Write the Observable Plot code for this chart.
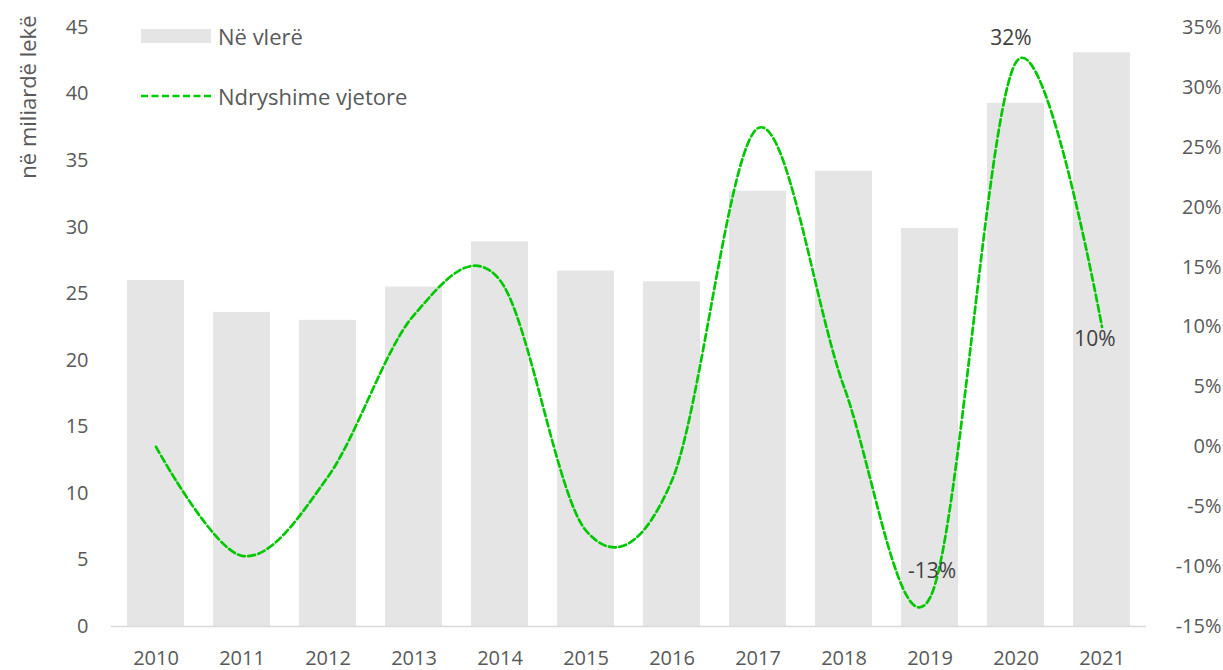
<!DOCTYPE html>
<html>
<head>
<meta charset="utf-8">
<script src="https://cdn.jsdelivr.net/npm/d3@7"></script>
<script src="https://cdn.jsdelivr.net/npm/@observablehq/plot@0.6"></script>
<style>
  body { margin: 0; background: #fff; font-family: "Open Sans", sans-serif; }
  #wrap { position: relative; width: 1223px; height: 670px; }
  .lg { position: absolute; left: 141px; display: flex; align-items: center; color: #595959; font-size: 22px; }
  .lg .sw { width: 70px; height: 14px; margin-right: 7px; }
  .lg svg { margin-right: 7px; }
</style>
</head>
<body>
<div id="wrap">
  <div class="lg" style="top:21px;"><div class="sw" style="background:#e5e5e5"></div><span>Në vlerë</span></div>
  <div class="lg" style="top:81px;"><svg width="70" height="14"><line x1="0" x2="70" y1="7" y2="7" stroke="#00c800" stroke-width="2.7" stroke-dasharray="7,3.5"/></svg><span>Ndryshime vjetore</span></div>
</div>
<script>
const years = ["2010","2011","2012","2013","2014","2015","2016","2017","2018","2019","2020","2021"];
const values = [26.0, 23.6, 23.0, 25.5, 28.9, 26.7, 25.9, 32.7, 34.2, 29.9, 39.3, 43.1];
const changes = [0, -9.1, -2.5, 11, 13.9, -7.0, -2.8, 26.6, 5, -12.6, 32.1, 10];
const leftTicks = [0, 5, 10, 15, 20, 25, 30, 35, 40, 45];
const rightTicks = [-15, -10, -5, 0, 5, 10, 15, 20, 25, 30, 35];
const labelYears = ["2019", "2020", "2021"];
const labelTexts = ["-13%", "32%", "10%"];

const pctMin = -15, pctMax = 35, leftMax = 45;
const toLeft = p => (p - pctMin) * leftMax / (pctMax - pctMin);
const fromLeft = v => v * (pctMax - pctMin) / leftMax + pctMin;

const data = years.map((y, i) => ({year: y, value: values[i], change: changes[i]}));
const labels = labelYears.map((y, i) => ({year: y, text: labelTexts[i], change: changes[years.indexOf(y)]}));
const labelOffsets = {"2019": [2, -26], "2020": [-5, -24], "2021": [-7, 12]};

const chart = Plot.plot({
  width: 1223,
  height: 670,
  marginLeft: 111,
  marginRight: 77,
  marginTop: 27,
  marginBottom: 44,
  style: {fontFamily: "'Open Sans', sans-serif", fontSize: "20px", color: "#595959", background: "transparent", overflow: "visible"},
  x: {domain: years, paddingInner: 0.34, paddingOuter: 0.17},
  y: {domain: [0, leftMax]},
  marks: [
    Plot.barY(data, {x: "year", y: "value", fill: "#e5e5e5"}),
    Plot.ruleY([0], {stroke: "#d9d9d9", strokeWidth: 1.5}),
    Plot.line(data, {x: "year", y: d => toLeft(d.change), stroke: "#00c800", strokeWidth: 2.7, strokeDasharray: "7,3.5", curve: "cardinal"}),
    ...labels.map(l => Plot.text([l], {x: "year", y: d => toLeft(d.change), text: "text", fill: "#404040", fontSize: 21, dx: labelOffsets[l.year][0], dy: labelOffsets[l.year][1]})),
    Plot.axisX({tickSize: 0, tickPadding: 24, label: null}),
    Plot.axisY(leftTicks, {anchor: "left", tickSize: 0, tickPadding: 23, label: null}),
    Plot.axisY(rightTicks.map(toLeft), {anchor: "right", tickSize: 0, tickPadding: 75, textAnchor: "end", label: null, tickFormat: d => Math.round(fromLeft(d)) + "%"}),
    Plot.text(["në miliardë lekë"], {frameAnchor: "top-left", rotate: -90, textAnchor: "end", dx: -91, dy: -12, fontSize: 22, fill: "#595959"})
  ]
});
document.getElementById("wrap").prepend(chart);
chart.style.position = "absolute";
chart.style.left = "0";
chart.style.top = "0";
</script>
</body>
</html>
